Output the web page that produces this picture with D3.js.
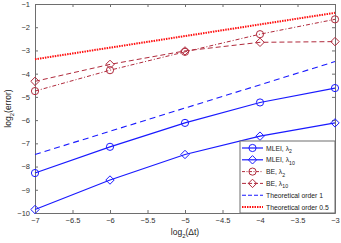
<!DOCTYPE html>
<html><head><meta charset="utf-8">
<script src="https://cdn.jsdelivr.net/npm/d3@7"></script>
<style>body{margin:0;background:#fff}svg{display:block}text{font-family:"Liberation Sans",Arial,sans-serif}</style>
</head><body><svg id="c" width="341" height="243"></svg>
<script>
const xs = [-7, -6, -5, -4, -3];
const mleiL2 = [-8.28, -7.15, -6.12, -5.24, -4.62];
const mleiL10 = [-9.85, -8.58, -7.48, -6.69, -6.12];
const beL2 = [-4.75, -3.85, -3.06, -2.3, -1.66];
const beL10 = [-4.33, -3.6, -3.02, -2.65, -2.62];
const ord1X = [-7, -3];
const ord1 = [-7.48, -3.48];
const ord05 = [-3.38, -1.38];
const xTicks = [-7, -6.5, -6, -5.5, -5, -4.5, -4, -3.5, -3];
const yTicks = [-10, -9, -8, -7, -6, -5, -4, -3, -2, -1];
const legendLabels = ["MLEI, λ2", "MLEI, λ10", "BE, λ2", "BE, λ10", "Theoretical order 1", "Theoretical order 0.5"];

const svg = d3.select("#c");
const L = 35, R = 335, T = 4, B = 213;
const x = d3.scaleLinear().domain([-7, -3]).range([L, R]);
const y = d3.scaleLinear().domain([-10, -1]).range([B, T]);
const blue = "#1a1aff", dred = "#b02a3c", red = "#ff1010", axc = "#6e6e6e";

const g = svg.append("g");
g.append("g").attr("transform", `translate(0,${B})`).call(d3.axisBottom(x).tickValues(xTicks).tickSizeInner(-3).tickSizeOuter(0).tickPadding(5).tickFormat(d3.format("")));
g.append("g").attr("transform", `translate(0,${T})`).call(d3.axisTop(x).tickValues(xTicks).tickSizeInner(-3).tickSizeOuter(0).tickFormat(""));
g.append("g").attr("transform", `translate(${L},0)`).call(d3.axisLeft(y).tickValues(yTicks).tickSizeInner(-3).tickSizeOuter(0).tickPadding(5));
g.append("g").attr("transform", `translate(${R},0)`).call(d3.axisRight(y).tickValues(yTicks).tickSizeInner(-3).tickSizeOuter(0).tickFormat(""));
g.selectAll(".domain").attr("stroke", axc);
g.selectAll(".tick line").attr("stroke", axc);
g.selectAll(".tick text").attr("fill", "#333").style("font-size", "7.5px");

const line = d3.line().x(d => x(d[0])).y(d => y(d[1]));
const zip = (a, b) => a.map((v, i) => [v, b[i]]);

function circ(sel, cx, cy, col) {
  sel.append("circle").attr("cx", cx).attr("cy", cy).attr("r", 3.6).attr("fill", "none").attr("stroke", col).attr("stroke-width", 1);
}
function diam(sel, cx, cy, col) {
  const s = 4.2;
  sel.append("path").attr("d", `M${cx},${cy - s}L${cx + s},${cy}L${cx},${cy + s}L${cx - s},${cy}Z`).attr("fill", "none").attr("stroke", col).attr("stroke-width", 1);
}

const series = [
  {v: mleiL2, col: blue, dash: null, w: 1.2, m: circ},
  {v: mleiL10, col: blue, dash: null, w: 1.2, m: diam},
  {v: beL2, col: dred, dash: "4,2,1,2", w: 1, m: circ},
  {v: beL10, col: dred, dash: "5,3", w: 1, m: diam},
];
const plot = svg.append("g");
plot.append("path").attr("d", line(zip(ord1X, ord1))).attr("fill", "none").attr("stroke", blue).attr("stroke-width", 1.1).attr("stroke-dasharray", "6,4");
plot.append("path").attr("d", line(zip(ord1X, ord05))).attr("fill", "none").attr("stroke", red).attr("stroke-width", 2).attr("stroke-dasharray", "1.5,1");
series.forEach(s => {
  plot.append("path").attr("d", line(zip(xs, s.v))).attr("fill", "none").attr("stroke", s.col).attr("stroke-width", s.w).attr("stroke-dasharray", s.dash);
  xs.forEach((xv, i) => s.m(plot, x(xv), y(s.v[i]), s.col));
});

const lg = svg.append("g");
const lx0 = 240, ly0 = 141, lw = R - lx0, lh = B - ly0;
lg.append("rect").attr("x", lx0).attr("y", ly0).attr("width", lw).attr("height", lh).attr("fill", "#fff").attr("stroke", axc).attr("stroke-width", 1);
const legItems = [
  {col: blue, dash: null, w: 1.2, m: circ},
  {col: blue, dash: null, w: 1.2, m: diam},
  {col: dred, dash: "3,1.5,1,1.5", w: 1, m: circ},
  {col: dred, dash: "4,2", w: 1, m: diam},
  {col: blue, dash: "4,2", w: 1.1, m: null},
  {col: red, dash: "1.5,1", w: 2, m: null},
];
legItems.forEach((it, i) => {
  const cy = ly0 + 7 + i * 11.8;
  lg.append("line").attr("x1", 242).attr("x2", 263).attr("y1", cy).attr("y2", cy).attr("stroke", it.col).attr("stroke-width", it.w).attr("stroke-dasharray", it.dash);
  if (it.m) it.m(lg, 252.5, cy, it.col);
  const lab = legendLabels[i];
  const t = lg.append("text").attr("x", 266).attr("y", cy + 2.5).style("font-size", "6.8px").attr("fill", "#222");
  const m = lab.match(/^(.*λ)(\d+)$/);
  if (m) {
    t.append("tspan").text(m[1]);
    t.append("tspan").attr("dy", 2.5).style("font-size", "5.2px").text(m[2]);
  } else t.text(lab);
});

const xl = svg.append("text").attr("x", 185).attr("y", 235).attr("text-anchor", "middle").style("font-size", "8.5px").attr("fill", "#222");
xl.append("tspan").text("log");
xl.append("tspan").attr("dy", 2.5).style("font-size", "6px").text("2");
xl.append("tspan").attr("dy", -2.5).text("(Δt)");
const yl = svg.append("text").attr("transform", `translate(11,${(T + B) / 2}) rotate(-90)`).attr("text-anchor", "middle").style("font-size", "8.5px").attr("fill", "#222");
yl.append("tspan").text("log");
yl.append("tspan").attr("dy", 2.5).style("font-size", "6px").text("2");
yl.append("tspan").attr("dy", -2.5).text("(error)");
</script></body></html>
